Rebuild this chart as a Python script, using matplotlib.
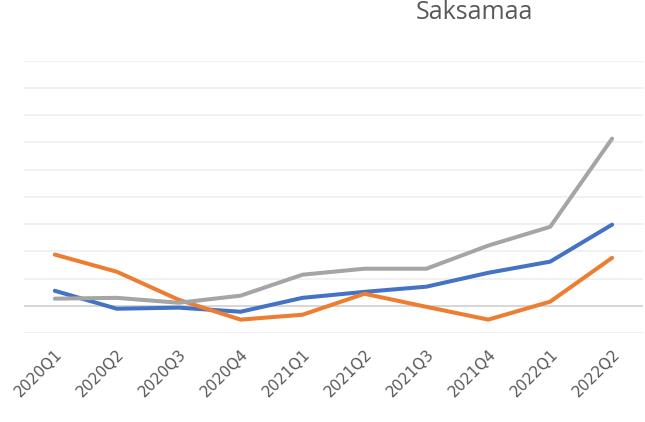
import matplotlib.pyplot as plt

# kvartalid ja kolm seeriat (väärtused loetud pildilt, ühik = üks ruudustiku samm)
quarters = ['2020Q1', '2020Q2', '2020Q3', '2020Q4', '2021Q1',
            '2021Q2', '2021Q3', '2021Q4', '2022Q1', '2022Q2']
blue = [0.55, -0.11, -0.07, -0.22, 0.29, 0.51, 0.70, 1.21, 1.62, 2.98]
orange = [1.88, 1.25, 0.22, -0.51, -0.33, 0.44, -0.04, -0.51, 0.15, 1.76]
gray = [0.26, 0.29, 0.11, 0.37, 1.14, 1.36, 1.36, 2.21, 2.90, 6.14]
grid_levels = [-1, 0, 1, 2, 3, 4, 5, 6, 7, 8, 9]

fig = plt.figure(figsize=(6.45, 4.22), dpi=100)
ax = fig.add_axes([0.037, 0.211, 0.96, 0.645])

x = range(len(quarters))
ax.plot(x, blue, color='#4472C4', lw=2.9, solid_capstyle='round', zorder=3)
ax.plot(x, orange, color='#ED7D31', lw=2.9, solid_capstyle='round', zorder=3)
ax.plot(x, gray, color='#A5A5A5', lw=2.9, solid_capstyle='round', zorder=3)

# ruudustik
for g in grid_levels:
    ax.axhline(g, color='#d0d0d0' if g == 0 else '#efefef', lw=1.2, zorder=1)

ax.set_xlim(-0.5, len(quarters) - 0.5)
ax.set_ylim(-1, 9)
ax.set_yticks([])
ax.set_xticks(list(x))
ax.set_xticklabels(quarters, rotation=45, ha='right', rotation_mode='anchor',
                   fontsize=11, color='#595959')
ax.tick_params(axis='x', length=0, pad=10)
for s in ax.spines.values():
    s.set_visible(False)

fig.text(0.735, 1.0, 'Saksamaa', ha='center', va='top',
         fontsize=18, color='#595959', family='Open Sans')

fig.savefig('out.png', dpi=100)
